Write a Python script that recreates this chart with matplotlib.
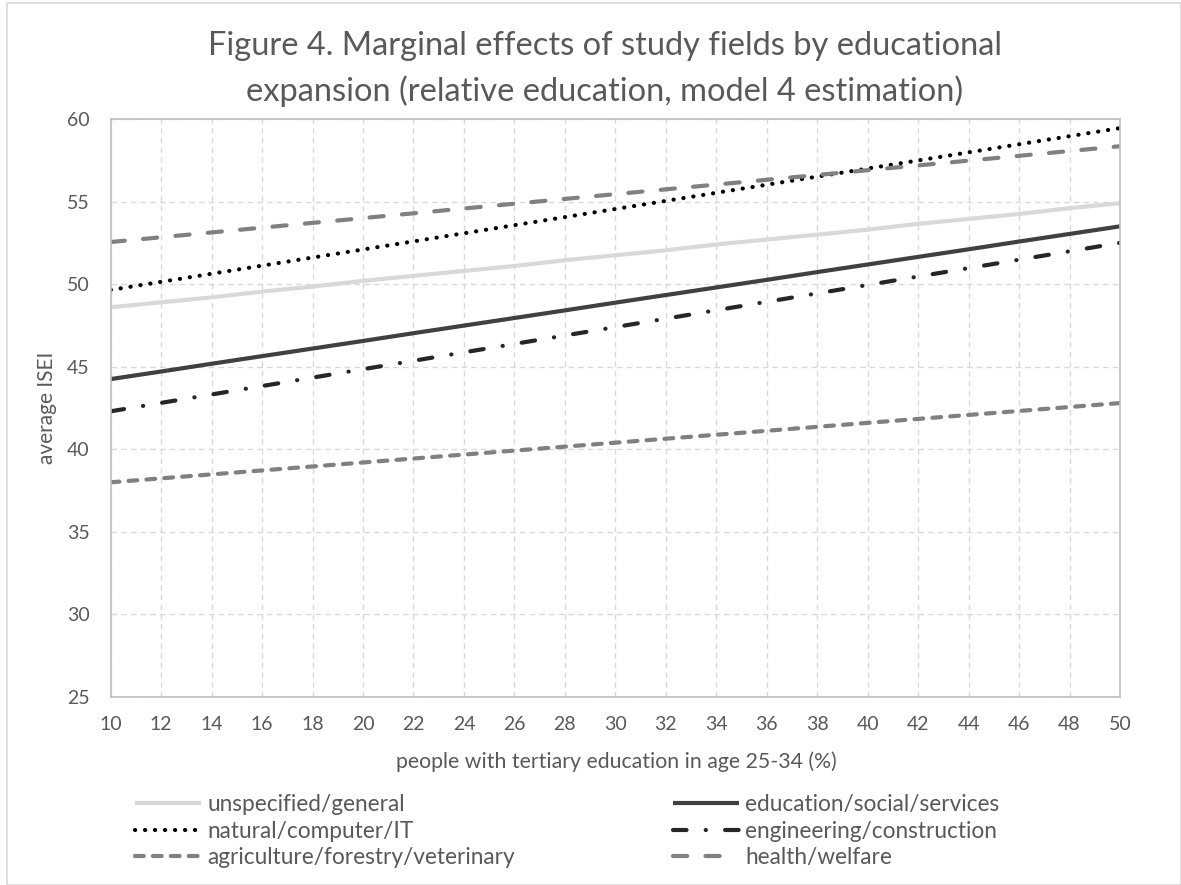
import matplotlib
matplotlib.use("Agg")
import matplotlib.pyplot as plt
from matplotlib.lines import Line2D
from matplotlib.patches import Rectangle

plt.rcParams['font.family'] = ['Lato', 'DejaVu Sans']

x_values = [10, 12, 14, 16, 18, 20, 22, 24, 26, 28, 30, 32, 34, 36, 38, 40, 42, 44, 46, 48, 50]

unspecified = [48.6, 48.9, 49.2, 49.55, 49.85, 50.2, 50.5, 50.8, 51.1, 51.45, 51.75,
               52.05, 52.4, 52.7, 53.0, 53.3, 53.65, 53.95, 54.25, 54.6, 54.9]
education = [44.25, 44.71, 45.18, 45.64, 46.1, 46.56, 47.03, 47.49, 47.95, 48.41, 48.88,
             49.34, 49.8, 50.26, 50.73, 51.19, 51.65, 52.11, 52.58, 53.04, 53.5]
natural = [49.65, 50.14, 50.63, 51.12, 51.61, 52.1, 52.59, 53.08, 53.57, 54.06, 54.55,
           55.04, 55.53, 56.02, 56.51, 57.0, 57.49, 57.98, 58.47, 58.96, 59.45]
engineering = [42.3, 42.81, 43.32, 43.83, 44.34, 44.85, 45.36, 45.87, 46.38, 46.89, 47.4,
               47.91, 48.42, 48.93, 49.44, 49.95, 50.46, 50.97, 51.48, 51.99, 52.5]
agriculture = [38.0, 38.24, 38.48, 38.72, 38.96, 39.2, 39.44, 39.68, 39.92, 40.16, 40.4,
               40.64, 40.88, 41.12, 41.36, 41.6, 41.84, 42.08, 42.32, 42.56, 42.8]
health = [52.55, 52.84, 53.13, 53.42, 53.71, 54.0, 54.29, 54.58, 54.87, 55.16, 55.45,
          55.74, 56.03, 56.32, 56.61, 56.9, 57.19, 57.48, 57.77, 58.06, 58.35]

y_ticks = [25, 30, 35, 40, 45, 50, 55, 60]

title = "Figure 4. Marginal effects of study fields by educational\nexpansion (relative education, model 4 estimation)"
x_label = "people with tertiary education in age 25-34 (%)"
y_label = "average ISEI"

W, H = 1181, 885
fig = plt.figure(figsize=(W / 100, H / 100), dpi=100)
ax = fig.add_axes([110.7 / W, 1 - 697 / H, (1120 - 110.7) / W, (697 - 119) / H])

lw = 3.0
series = [
    ("unspecified/general", unspecified, dict(color="#D9D9D9", linestyle="-", solid_capstyle="butt")),
    ("education/social/services", education, dict(color="#404040", linestyle="-", solid_capstyle="butt")),
    ("natural/computer/IT", natural, dict(color="#000000", linestyle=(0, (0.05, 2.35)), dash_capstyle="round")),
    ("engineering/construction", engineering, dict(color="#262626", linestyle=(0, (3.25, 4.6, 0.05, 4.6)), dash_capstyle="round")),
    ("agriculture/forestry/veterinary", agriculture, dict(color="#808080", linestyle=(0, (2.1, 2.2)), dash_capstyle="round")),
    ("health/welfare", health, dict(color="#808080", linestyle=(0, (3.4, 4.4)), dash_capstyle="round")),
]

handles = {}
for name, vals, style in series:
    ln, = ax.plot(x_values, vals, lw=lw, label=name, **style)
    handles[name] = ln

# legend proxy for health so that only two dashes show, as in the reference
handles["health/welfare"] = Line2D([], [], color="#808080", lw=lw,
                                   linestyle=(0, (3.4, 4.4, 3.4, 12)), dash_capstyle="round")

ax.set_xlim(10, 50)
ax.set_ylim(25, 60)
ax.set_xticks(x_values)
ax.set_yticks(y_ticks)
ax.tick_params(axis='both', length=0, labelsize=14, labelcolor="#595959")
ax.tick_params(axis='x', pad=14)
ax.tick_params(axis='y', pad=15)
ax.grid(True, color="#D9D9D9", linestyle=(0, (4, 3)), linewidth=1.0)
ax.set_axisbelow(True)
for sp in ax.spines.values():
    sp.set_color("#BFBFBF")
    sp.set_linewidth(1.2)

fig.text(605 / W, 1 - 69 / H, title, ha="center", va="center", fontsize=23.5,
         color="#595959", linespacing=1.55)
fig.text(47 / W, 1 - 408 / H, y_label, rotation=90, ha="center", va="center",
         fontsize=15, color="#595959")
fig.text(616 / W, 1 - 762 / H, x_label, ha="center", va="center",
         fontsize=15.3, color="#595959")

col1 = ["unspecified/general", "natural/computer/IT", "agriculture/forestry/veterinary"]
col2 = ["education/social/services", "engineering/construction", "health/welfare"]
leg_kw = dict(frameon=False, fontsize=16.3, handlelength=2.9, handletextpad=0.3,
              labelspacing=0.25, labelcolor="#595959", borderpad=0, borderaxespad=0)
leg1 = fig.legend([handles[n] for n in col1], col1, loc="center left",
                  bbox_to_anchor=(135 / W, 1 - 831 / H), **leg_kw)
leg2 = fig.legend([handles[n] for n in col2], col2, loc="center left",
                  bbox_to_anchor=(673 / W, 1 - 831 / H), **leg_kw)

fig.patches.append(Rectangle((7 / W, 0), 1 - 7 / W, 1 - 3 / H, transform=fig.transFigure,
                             fill=False, edgecolor="#D9D9D9", linewidth=1.2))

fig.savefig("out.png", dpi=100)
